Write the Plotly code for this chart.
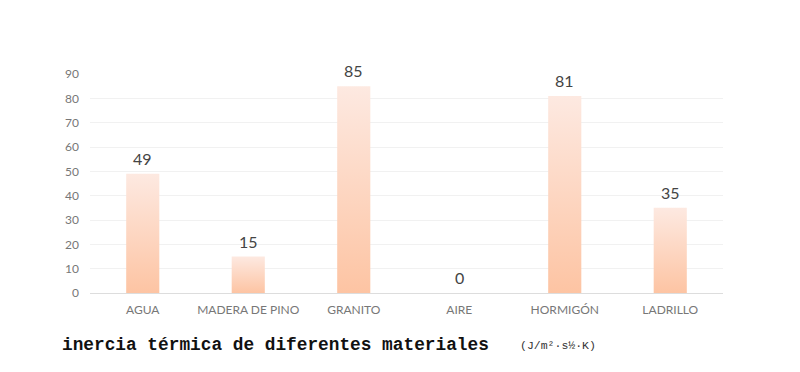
import plotly.graph_objects as go

categories = ["AGUA", "MADERA DE PINO", "GRANITO", "AIRE", "HORMIGÓN", "LADRILLO"]
values = [49, 15, 85, 0, 81, 35]
y_ticks = [0, 10, 20, 30, 40, 50, 60, 70, 80, 90]

bar_half = 0.157
color_bottom = "#fdc4a3"
color_top = "#fde9e1"

fig = go.Figure()

for i, v in enumerate(values):
    if v <= 0:
        continue
    fig.add_trace(go.Scatter(
        x=[i - bar_half, i + bar_half, i + bar_half, i - bar_half, i - bar_half],
        y=[0, 0, v, v, 0],
        mode="lines",
        line=dict(width=0),
        fill="toself",
        fillgradient=dict(type="vertical",
                          colorscale=[[0, color_bottom], [1, color_top]]),
        hoverinfo="skip",
        showlegend=False,
    ))

annotations = []
for i, v in enumerate(values):
    annotations.append(dict(
        x=i, y=v, xref="x", yref="y", text=str(v),
        showarrow=False, yanchor="bottom", xanchor="center", yshift=4,
        font=dict(family="Lato, sans-serif", size=16, color="#444444"),
    ))

annotations += [
    dict(text="<b>inercia térmica de diferentes materiales</b>",
         xref="paper", yref="paper", x=-0.0474, y=-0.238,
         xanchor="left", yanchor="middle", showarrow=False,
         font=dict(family="Liberation Mono, Courier New, monospace", size=17.8, color="#111111")),
    dict(text="(J/m²·s½·K)",
         xref="paper", yref="paper", x=0.676, y=-0.238,
         xanchor="left", yanchor="middle", showarrow=False,
         font=dict(family="Liberation Mono, Courier New, monospace", size=11.5, color="#333333")),
]

fig.update_layout(
    width=800, height=372,
    margin=dict(l=90, r=77, t=74, b=79),
    paper_bgcolor="white", plot_bgcolor="white",
    xaxis=dict(
        range=[-0.5, len(categories) - 0.5],
        tickvals=list(range(len(categories))),
        ticktext=categories,
        showgrid=False, zeroline=False,
        showline=True, linecolor="#dddddd", linewidth=1,
        ticks="", ticklen=0,
        ticklabelstandoff=6,
        tickfont=dict(family="Lato, sans-serif", size=12, color="#777777"),
    ),
    yaxis=dict(
        range=[0, 90],
        tickvals=y_ticks,
        showgrid=True, gridcolor="#f1f1f1", gridwidth=1,
        zeroline=False, showline=False,
        ticks="",
        tickfont=dict(family="Lato, sans-serif", size=12, color="#777777"),
        ticklabelstandoff=10,
    ),
    annotations=annotations,
)

fig.write_html("out.html")
